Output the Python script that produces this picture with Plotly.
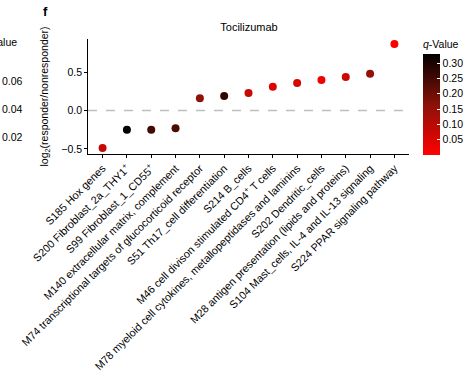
import plotly.graph_objects as go

categories = [
    "S185 Hox genes",
    "S200 Fibroblast_2a_THY1<sup>+</sup>",
    "S99 Fibroblast_1_CD55<sup>+</sup>",
    "M140 extracellular matrix, complement",
    "M74 transcriptional targets of glucocorticoid receptor",
    "S51 Th17_cell differentiation",
    "S214 B_cells",
    "M46 cell divison stimulated CD4<sup>+</sup> T cells",
    "M78 myeloid cell cytokines, metallopeptidases and laminins",
    "S202 Dendritic_cells",
    "M28 antigen presentation (lipids and proteins)",
    "S104 Mast_cells, IL-4 and IL-13 signaling",
    "S224 PPAR signaling pathway",
]
log2_ratio = [-0.49, -0.25, -0.25, -0.23, 0.16, 0.19, 0.23, 0.31, 0.36, 0.40, 0.44, 0.48, 0.87]
q_values = [0.08, 0.33, 0.25, 0.24, 0.16, 0.27, 0.08, 0.05, 0.06, 0.02, 0.07, 0.15, 0.003]
cbar_ticks = [0.05, 0.10, 0.15, 0.20, 0.25, 0.30]
y_ticks = [-0.5, 0.0, 0.5]

FONT = "Liberation Sans, Arial, Helvetica, sans-serif"
W, H = 467, 379
L, R, T, B = 88, 58, 39, 225
pw, ph = W - L - R, H - T - B

def px_x(px):
    return (px - L) / pw

def px_y(py):
    return (H - B - py) / ph

fig = go.Figure()
fig.add_trace(go.Scatter(
    x=list(range(len(categories))),
    y=log2_ratio,
    mode="markers",
    marker=dict(
        size=8,
        color=q_values,
        cmin=0.0,
        cmax=0.33,
        colorscale=[[0, "#FF0000"], [0.5, "#8A1208"], [1, "#000000"]],
        line=dict(width=0),
        colorbar=dict(
            title=dict(text="<i>q</i>-Value", font=dict(size=10.5, family=FONT, color="black"), side="top"),
            thickness=17,
            lenmode="pixels",
            len=118,
            x=px_x(423),
            xanchor="left",
            y=px_y(155),
            yanchor="bottom",
            tickvals=cbar_ticks,
            tickformat=".2f",
            ticks="inside",
            tickcolor="white",
            ticklen=3,
            tickfont=dict(size=10.5, family=FONT, color="black"),
            outlinewidth=0,
            xpad=0,
            ypad=0,
        ),
    ),
    showlegend=False,
))

fig.add_shape(type="line", xref="paper", yref="y", x0=0, x1=1, y0=0, y1=0,
              line=dict(color="#BEBEBE", width=1.5, dash="dash"), layer="below")

fig.update_layout(
    width=W, height=H,
    margin=dict(l=L, r=R, t=T, b=B, autoexpand=False),
    paper_bgcolor="white", plot_bgcolor="white",
    font=dict(family=FONT, size=10, color="black"),
    title=dict(text="Tocilizumab", x=px_x(249), xanchor="center", xref="paper",
               y=1 - 27 / H, yanchor="middle", font=dict(size=11, family=FONT, color="black")),
    xaxis=dict(
        tickmode="array",
        tickvals=list(range(len(categories))),
        ticktext=categories,
        tickangle=-45,
        range=[-0.6, 12.6],
        automargin=False,
        showgrid=False, zeroline=False,
        showline=True, linecolor="black", linewidth=0.8,
        ticks="outside", ticklen=3, tickcolor="black", tickwidth=0.8,
        tickfont=dict(size=10.8, family=FONT, color="black"),
    ),
    yaxis=dict(
        tickvals=y_ticks,
        tickformat=".1f",
        range=[-0.567, 0.935],
        automargin=False,
        showgrid=False, zeroline=False,
        showline=True, linecolor="black", linewidth=0.8,
        ticks="outside", ticklen=3, tickcolor="black", tickwidth=0.8,
        tickfont=dict(size=10.5, family=FONT, color="black"),
        title=dict(text="log<sub>2</sub>(responder/nonresponder)", font=dict(size=10.5, family=FONT, color="black"), standoff=10),
    ),
)

# panel label and clipped neighbouring colorbar
fig.add_annotation(text="<b>f</b>", xref="paper", yref="paper", x=px_x(41), y=px_y(11),
                   yanchor="middle", showarrow=False, font=dict(size=13, family=FONT, color="black"))
fig.add_annotation(text="Value", xref="paper", yref="paper", x=px_x(19), y=px_y(42),
                   xanchor="right", yanchor="middle", showarrow=False, font=dict(size=10.5, family=FONT, color="black"))
for lbl, py in [("0.06", 81), ("0.04", 109), ("0.02", 137)]:
    fig.add_annotation(text=lbl, xref="paper", yref="paper", x=px_x(25), y=px_y(py),
                       xanchor="right", yanchor="middle", showarrow=False, font=dict(size=10.5, family=FONT, color="black"))

fig.write_html("out.html", config={"displayModeBar": False},
               post_script="document.body.style.margin='0px';")
